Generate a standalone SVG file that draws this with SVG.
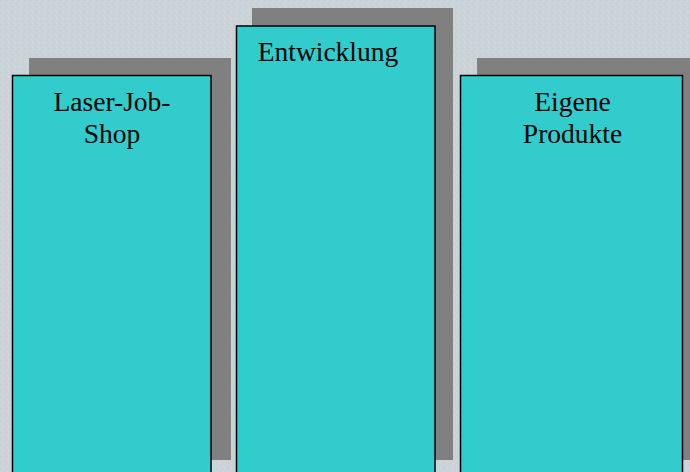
<svg xmlns="http://www.w3.org/2000/svg" width="690" height="472" viewBox="0 0 690 472">
  <defs>
    <pattern id="tex" width="6" height="6" patternUnits="userSpaceOnUse">
      <rect width="6" height="6" fill="#cad3d7"/>
      <rect x="0" y="0" width="1" height="1" fill="#c2ccd6"/>
      <rect x="3" y="1" width="1" height="1" fill="#d2dad6"/>
      <rect x="1" y="3" width="1" height="1" fill="#d0d6de"/>
      <rect x="4" y="4" width="1" height="1" fill="#c4d0cc"/>
      <rect x="5" y="2" width="1" height="1" fill="#c6cdd8"/>
      <rect x="2" y="5" width="1" height="1" fill="#d4dadc"/>
    </pattern>
  </defs>
  <style>
    .shadow { fill: #808080; }
    .box { fill: #33cccc; stroke: #000000; stroke-width: 1.5; }
    .label { font-family: "Liberation Serif", "Times New Roman", serif; font-size: 27.5px; fill: #000000; text-anchor: middle; }
  </style>
  <rect width="690" height="472" fill="url(#tex)"/>
  <g id="connectors"></g>
  <g id="node-laser-job-shop">
    <rect class="shadow" x="29" y="58" width="202" height="402"/>
    <rect class="box" x="12.5" y="75.5" width="198.5" height="410"/>
    <text class="label" x="112" y="111">Laser-Job-</text>
    <text class="label" x="112" y="142.5">Shop</text>
  </g>
  <g id="node-entwicklung">
    <rect class="shadow" x="252" y="8" width="201" height="452"/>
    <rect class="box" x="236.5" y="26" width="198.5" height="460"/>
    <text class="label" x="328" y="61">Entwicklung</text>
  </g>
  <g id="node-eigene-produkte">
    <rect class="shadow" x="477" y="58" width="213" height="402"/>
    <rect class="box" x="460.5" y="75.5" width="222" height="410"/>
    <text class="label" x="572.5" y="111">Eigene</text>
    <text class="label" x="572.5" y="142.5">Produkte</text>
  </g>
</svg>
